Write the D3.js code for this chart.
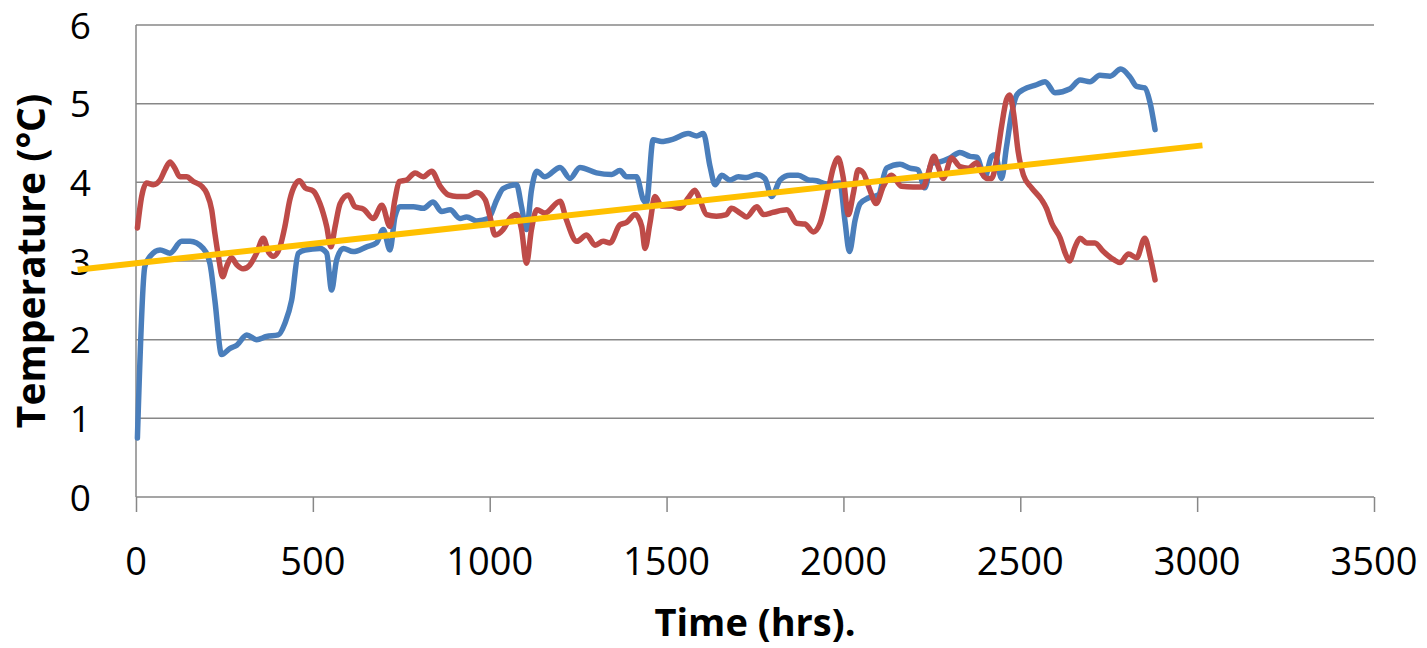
<!DOCTYPE html>
<html><head><meta charset="utf-8">
<script src="https://cdn.jsdelivr.net/npm/d3@7"></script>
<style>html,body{margin:0;padding:0;background:#fff;overflow:hidden}</style>
</head><body>
<svg id="chart" width="1427" height="648"></svg>
<script>
const xTicks = [0, 500, 1000, 1500, 2000, 2500, 3000, 3500];
const yTicks = [0, 1, 2, 3, 4, 5, 6];
const xTitle = "Time (hrs).";
const yTitle = "Temperature (°C)";

const blueX = [4,25,40,68,96,129,153,190,209,223,242,266,285,313,341,369,402,421,440,459,478,520,539,553,567,586,614,652,680,699,718,732,746,784,812,840,864,888,916,935,963,996,1020,1038,1076,1090,1104,1118,1133,1156,1199,1227,1255,1302,1345,1368,1387,1415,1434,1443,1462,1486,1519,1561,1585,1604,1623,1637,1656,1679,1703,1726,1755,1778,1797,1821,1849,1872,1901,1924,1952,1990,2004,2017,2033,2047,2070,2099,2122,2160,2188,2211,2230,2249,2273,2301,2329,2358,2377,2400,2419,2429,2447,2461,2476,2490,2509,2546,2570,2598,2641,2669,2697,2725,2754,2784,2810,2829,2852,2867,2881];
const blueY = [0.75,2.93,3.06,3.14,3.10,3.25,3.25,3.16,2.97,2.50,1.81,1.89,1.93,2.06,2.00,2.04,2.06,2.21,2.50,3.10,3.14,3.16,3.10,2.63,3.01,3.16,3.12,3.18,3.23,3.40,3.14,3.56,3.69,3.69,3.67,3.75,3.63,3.65,3.54,3.56,3.51,3.54,3.78,3.92,3.97,3.69,3.40,3.90,4.14,4.07,4.19,4.05,4.19,4.12,4.10,4.15,4.07,4.07,3.78,3.74,4.54,4.52,4.55,4.62,4.59,4.62,4.20,3.97,4.09,4.03,4.07,4.06,4.10,4.05,3.82,4.03,4.09,4.09,4.03,4.02,3.98,3.99,3.52,3.12,3.52,3.73,3.80,3.84,4.18,4.23,4.18,4.16,3.93,4.24,4.26,4.31,4.38,4.33,4.32,4.07,4.33,4.35,4.05,4.45,4.88,5.11,5.18,5.24,5.28,5.14,5.19,5.30,5.28,5.36,5.35,5.44,5.34,5.22,5.20,5.01,4.67];

const redX = [4,16,30,49,68,82,96,110,124,143,162,186,200,214,223,233,245,256,270,285,303,322,341,360,374,388,407,421,435,450,462,478,501,520,539,551,563,577,600,619,643,671,695,718,732,744,765,789,812,836,860,883,907,935,963,987,1001,1015,1038,1057,1076,1090,1104,1118,1133,1156,1199,1217,1246,1274,1298,1321,1340,1368,1387,1411,1430,1439,1453,1467,1486,1514,1538,1561,1580,1594,1613,1641,1669,1683,1708,1726,1755,1774,1802,1840,1868,1891,1915,1934,1957,1971,1985,1999,2014,2028,2042,2056,2075,2092,2113,2136,2164,2197,2225,2240,2256,2268,2282,2306,2329,2353,2377,2391,2405,2419,2433,2447,2461,2470,2481,2494,2509,2532,2560,2574,2589,2613,2627,2639,2655,2669,2688,2711,2735,2763,2782,2806,2829,2852,2867,2881];
const redY = [3.42,3.82,3.99,3.97,4.03,4.16,4.26,4.18,4.07,4.07,4.01,3.95,3.86,3.65,3.35,3.06,2.80,2.93,3.04,2.95,2.90,2.95,3.10,3.29,3.12,3.06,3.18,3.44,3.78,3.97,4.02,3.93,3.89,3.73,3.44,3.18,3.44,3.73,3.84,3.69,3.66,3.54,3.71,3.44,3.78,4.01,4.03,4.12,4.07,4.14,3.95,3.84,3.82,3.82,3.87,3.78,3.56,3.33,3.40,3.54,3.59,3.40,2.97,3.40,3.65,3.61,3.76,3.52,3.25,3.33,3.20,3.25,3.23,3.46,3.49,3.59,3.44,3.16,3.48,3.82,3.70,3.70,3.67,3.80,3.90,3.78,3.59,3.57,3.59,3.67,3.61,3.56,3.69,3.59,3.62,3.65,3.48,3.47,3.37,3.48,3.90,4.18,4.31,4.07,3.59,3.86,4.16,4.12,3.90,3.73,3.95,4.09,3.95,3.94,3.94,4.12,4.33,4.20,4.05,4.31,4.20,4.18,4.25,4.12,4.05,4.05,4.29,4.71,5.05,5.11,4.88,4.39,4.09,3.93,3.78,3.67,3.48,3.29,3.10,3.00,3.18,3.29,3.23,3.23,3.12,3.02,2.98,3.09,3.04,3.29,3.06,2.76];

const trendX = [-165, 3015];
const trendY = [2.89, 4.47];

const svg = d3.select("#chart");
svg.append("rect").attr("width",1427).attr("height",648).attr("fill","#fff");

const x = d3.scaleLinear().domain([0, 3500]).range([136, 1374]);
const y = d3.scaleLinear().domain([0, 6]).range([497, 25]);

const gridColor = "#878787";
const fontFam = "'Open Sans', 'Liberation Sans', sans-serif";

// gridlines
svg.append("g").selectAll("line").data(yTicks.filter(d => d > 0)).join("line")
  .attr("x1", x(0)).attr("x2", x(3500))
  .attr("y1", d => y(d)).attr("y2", d => y(d))
  .attr("stroke", gridColor).attr("stroke-width", 1.5);

// x axis
const xAxis = d3.axisBottom(x).tickValues(xTicks).tickSize(15).tickFormat("");
const gx = svg.append("g").attr("transform", `translate(0,${y(0)})`).call(xAxis);
gx.select(".domain").attr("stroke", gridColor).attr("stroke-width", 1.5).attr("d", `M${x(0)},0H${x(3500)}`);
gx.selectAll(".tick line").attr("stroke", gridColor).attr("stroke-width", 1.5);

// y axis line
const yAxis = d3.axisLeft(y).tickValues(yTicks).tickSize(0).tickFormat("");
const gy = svg.append("g").attr("transform", `translate(${x(0)},0)`).call(yAxis);
gy.select(".domain").attr("stroke", gridColor).attr("stroke-width", 1.5).attr("d", `M0,${y(6)}V${y(0)}`);

// tick labels
svg.append("g").selectAll("text").data(xTicks).join("text")
  .attr("x", d => x(d)).attr("y", 575)
  .attr("text-anchor", "middle")
  .attr("font-family", fontFam).attr("font-size", 38).attr("fill", "#000")
  .text(d => d);

svg.append("g").selectAll("text").data(yTicks).join("text")
  .attr("x", 91).attr("y", d => y(d) + 13.8)
  .attr("text-anchor", "end")
  .attr("font-family", fontFam).attr("font-size", 37).attr("fill", "#000")
  .text(d => d);

// titles
svg.append("text").attr("x", (x(0) + x(3500)) / 2).attr("y", 636)
  .attr("text-anchor", "middle").attr("font-family", fontFam)
  .attr("font-weight", "bold").attr("font-size", 38).attr("fill", "#000")
  .text(xTitle);

svg.append("text").attr("transform", `translate(45,${(y(0) + y(6)) / 2}) rotate(-90)`)
  .attr("text-anchor", "middle").attr("font-family", fontFam)
  .attr("font-weight", "bold").attr("font-size", 39).attr("fill", "#000")
  .text(yTitle);

// lines
const blue = blueX.map((d, i) => [d, blueY[i]]);
const red = redX.map((d, i) => [d, redY[i]]);
const trend = trendX.map((d, i) => [d, trendY[i]]);

const line = d3.line().x(d => x(d[0])).y(d => y(d[1])).curve(d3.curveMonotoneX);

svg.append("path").datum(blue).attr("d", line)
  .attr("fill", "none").attr("stroke", "#4A7EBB").attr("stroke-width", 5.5)
  .attr("stroke-linejoin", "round").attr("stroke-linecap", "round");
svg.append("path").datum(red).attr("d", line)
  .attr("fill", "none").attr("stroke", "#BE4B48").attr("stroke-width", 5.5)
  .attr("stroke-linejoin", "round").attr("stroke-linecap", "round");
svg.append("path").datum(trend).attr("d", d3.line().x(d => x(d[0])).y(d => y(d[1])))
  .attr("fill", "none").attr("stroke", "#FFC000").attr("stroke-width", 6);
</script>
</body></html>
